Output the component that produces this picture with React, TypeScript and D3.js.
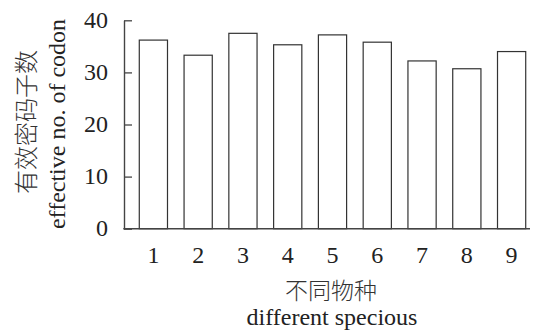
import React, { useEffect, useRef } from "react";
import * as d3 from "d3";

// number of effective codons per species
const species = ["1", "2", "3", "4", "5", "6", "7", "8", "9"];
const encValues = [36.2, 33.3, 37.5, 35.3, 37.2, 35.8, 32.2, 30.7, 34.0];
const yTicks = [0, 10, 20, 30, 40];

const W = 537;
const H = 333;
const FONT = "'Liberation Serif', 'Noto Sans CJK SC', serif";
const CJK = "'Noto Sans CJK SC', sans-serif";

export default function App() {
  const ref = useRef<SVGSVGElement>(null);

  useEffect(() => {
    const svg = d3.select(ref.current);
    svg.selectAll("*").remove();

    const x0 = 124;
    const x1 = 530;
    const y = d3.scaleLinear().domain([0, 40]).range([228.7, 20.3]);
    const x = d3
      .scaleBand<string>()
      .domain(species)
      .range([131, 534])
      .paddingInner(0.37)
      .paddingOuter(0.185);

    // bars
    svg
      .append("g")
      .selectAll("rect")
      .data(encValues)
      .enter()
      .append("rect")
      .attr("x", (d, i) => x(species[i])!)
      .attr("y", (d) => y(d))
      .attr("width", x.bandwidth())
      .attr("height", (d) => y(0) - y(d))
      .attr("fill", "white")
      .attr("stroke", "#333")
      .attr("stroke-width", 1.2);

    // y axis, ticks pointing inward
    const yAxis = d3
      .axisLeft(y)
      .tickValues(yTicks)
      .tickSizeInner(-8)
      .tickSizeOuter(0)
      .tickPadding(16);
    const gy = svg.append("g").attr("transform", `translate(${x0},0)`).call(yAxis);
    gy.select(".domain").attr("stroke", "#444").attr("stroke-width", 1.4);
    gy.selectAll(".tick line").attr("stroke", "#444").attr("stroke-width", 1.3);
    gy.selectAll(".tick text")
      .attr("font-family", FONT)
      .attr("font-size", 24)
      .attr("fill", "#222")
      .attr("dy", null)
      .attr("y", 7);

    // x axis line
    svg
      .append("line")
      .attr("x1", x0 - 0.7)
      .attr("x2", x1)
      .attr("y1", y(0))
      .attr("y2", y(0))
      .attr("stroke", "#444")
      .attr("stroke-width", 1.4);

    // category labels
    svg
      .append("g")
      .selectAll("text")
      .data(species)
      .enter()
      .append("text")
      .attr("x", (d) => x(d)! + x.bandwidth() / 2)
      .attr("y", 263)
      .attr("text-anchor", "middle")
      .attr("font-family", FONT)
      .attr("font-size", 24)
      .attr("fill", "#222")
      .text((d) => d);

    // axis titles
    svg
      .append("text")
      .attr("x", 331)
      .attr("y", 299)
      .attr("text-anchor", "middle")
      .attr("font-family", CJK)
      .attr("font-weight", 300)
      .attr("font-size", 23)
      .attr("fill", "#333")
      .text("不同物种");
    svg
      .append("text")
      .attr("x", 332)
      .attr("y", 325)
      .attr("text-anchor", "middle")
      .attr("font-family", FONT)
      .attr("font-size", 24)
      .attr("fill", "#222")
      .text("different specious");

    svg
      .append("text")
      .attr("transform", "translate(35,122) rotate(-90)")
      .attr("text-anchor", "middle")
      .attr("font-family", CJK)
      .attr("font-weight", 300)
      .attr("font-size", 24)
      .attr("fill", "#333")
      .text("有效密码子数");
    svg
      .append("text")
      .attr("transform", "translate(65,124) rotate(-90)")
      .attr("text-anchor", "middle")
      .attr("font-family", FONT)
      .attr("font-size", 24)
      .attr("fill", "#222")
      .text("effective no. of codon");
  }, []);

  return (
    <svg
      ref={ref}
      width={W}
      height={H}
      style={{ position: "absolute", left: 0, top: 0, background: "white" }}
    />
  );
}
